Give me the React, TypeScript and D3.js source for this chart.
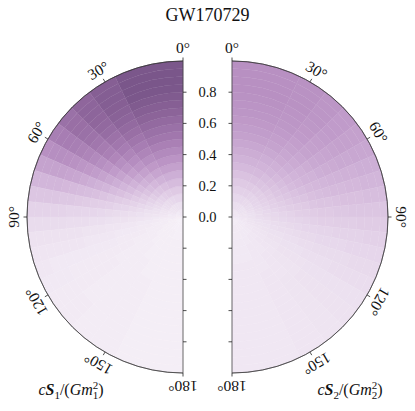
import React from "react";
import * as d3 from "d3";

// Probability per pixel (0-100), rows = tilt bins (cos tilt from 1 to -1 in 20 equal bins),
// columns = magnitude bins (0 to 1 in 20 equal bins)
const spin1Density: number[][] = [
  [8, 12, 18, 25, 32, 39, 46, 53, 59, 65, 71, 76, 81, 86, 90, 94, 97, 98, 98, 97],
  [8, 12, 17, 24, 30, 37, 44, 50, 56, 62, 67, 72, 77, 81, 85, 88, 90, 91, 91, 90],
  [8, 11, 16, 22, 28, 34, 40, 46, 52, 57, 62, 67, 71, 75, 79, 82, 84, 85, 85, 84],
  [7, 11, 15, 20, 26, 31, 37, 42, 47, 52, 56, 61, 65, 68, 71, 74, 76, 77, 77, 76],
  [7, 10, 14, 18, 23, 28, 32, 37, 41, 45, 49, 53, 56, 59, 62, 64, 66, 67, 67, 66],
  [7, 10, 13, 16, 20, 24, 28, 32, 35, 39, 42, 45, 48, 50, 52, 54, 55, 56, 56, 55],
  [6, 9, 11, 14, 17, 21, 24, 27, 30, 32, 35, 37, 39, 41, 43, 44, 45, 45, 45, 45],
  [6, 8, 10, 12, 15, 17, 20, 22, 24, 26, 28, 30, 31, 32, 33, 34, 35, 35, 35, 35],
  [5, 7, 9, 11, 12, 14, 16, 18, 19, 21, 22, 23, 24, 25, 26, 26, 27, 27, 27, 27],
  [5, 6, 8, 9, 10, 12, 13, 14, 15, 16, 17, 18, 18, 19, 19, 20, 20, 20, 20, 20],
  [4, 5, 6, 7, 8, 9, 10, 11, 11, 12, 13, 13, 14, 14, 14, 15, 15, 15, 15, 15],
  [4, 5, 5, 6, 7, 7, 8, 8, 9, 9, 10, 10, 10, 11, 11, 11, 11, 11, 11, 11],
  [4, 4, 5, 5, 6, 6, 7, 7, 7, 8, 8, 8, 8, 9, 9, 9, 9, 9, 9, 9],
  [4, 4, 5, 5, 5, 6, 6, 6, 6, 7, 7, 7, 7, 7, 7, 7, 7, 7, 8, 8],
  [3, 4, 4, 5, 5, 5, 5, 6, 6, 6, 6, 6, 6, 6, 6, 6, 7, 7, 7, 7],
  [3, 4, 4, 4, 5, 5, 5, 5, 5, 5, 6, 6, 6, 6, 6, 6, 6, 6, 6, 6],
  [3, 4, 4, 4, 4, 5, 5, 5, 5, 5, 5, 5, 5, 5, 5, 5, 6, 6, 6, 6],
  [3, 3, 4, 4, 4, 4, 4, 5, 5, 5, 5, 5, 5, 5, 5, 5, 5, 5, 5, 5],
  [3, 3, 4, 4, 4, 4, 4, 4, 4, 5, 5, 5, 5, 5, 5, 5, 5, 5, 5, 5],
  [3, 3, 3, 4, 4, 4, 4, 4, 4, 4, 4, 4, 4, 4, 4, 4, 4, 4, 4, 4],
];

const spin2Density: number[][] = [
  [10, 13, 17, 21, 25, 29, 33, 37, 40, 43, 46, 48, 50, 52, 53, 54, 55, 55, 55, 55],
  [10, 13, 17, 21, 25, 29, 33, 36, 39, 42, 45, 47, 49, 51, 52, 53, 54, 54, 54, 54],
  [10, 13, 16, 20, 24, 28, 31, 35, 38, 41, 43, 45, 47, 49, 50, 51, 52, 52, 52, 52],
  [10, 12, 16, 19, 23, 27, 30, 33, 36, 39, 41, 43, 45, 46, 47, 48, 49, 49, 49, 49],
  [10, 12, 15, 19, 22, 25, 28, 31, 34, 36, 38, 40, 42, 43, 44, 45, 46, 46, 46, 46],
  [9, 12, 15, 18, 21, 24, 27, 29, 32, 34, 36, 37, 39, 40, 41, 42, 42, 43, 43, 43],
  [9, 11, 14, 17, 20, 22, 25, 27, 29, 31, 33, 34, 35, 36, 37, 38, 38, 39, 39, 39],
  [9, 11, 13, 16, 18, 21, 23, 25, 27, 28, 30, 31, 32, 33, 33, 34, 34, 35, 35, 35],
  [8, 10, 12, 15, 17, 19, 21, 23, 24, 25, 27, 28, 28, 29, 30, 30, 30, 31, 31, 31],
  [8, 10, 12, 14, 16, 17, 19, 20, 22, 23, 24, 25, 25, 26, 26, 27, 27, 27, 27, 27],
  [8, 9, 11, 13, 14, 16, 17, 18, 19, 20, 21, 22, 22, 23, 23, 23, 24, 24, 24, 24],
  [7, 9, 10, 12, 13, 14, 15, 16, 17, 18, 18, 19, 19, 20, 20, 20, 20, 21, 21, 21],
  [7, 8, 10, 11, 12, 13, 14, 14, 15, 16, 16, 17, 17, 17, 17, 18, 18, 18, 18, 18],
  [7, 8, 9, 10, 11, 12, 12, 13, 13, 14, 14, 15, 15, 15, 15, 15, 16, 16, 16, 16],
  [6, 7, 8, 9, 10, 11, 11, 12, 12, 12, 13, 13, 13, 13, 14, 14, 14, 14, 14, 14],
  [6, 7, 8, 9, 9, 10, 10, 11, 11, 11, 11, 12, 12, 12, 12, 12, 12, 12, 12, 12],
  [6, 7, 7, 8, 9, 9, 9, 10, 10, 10, 10, 11, 11, 11, 11, 11, 11, 11, 11, 11],
  [6, 6, 7, 8, 8, 8, 9, 9, 9, 9, 10, 10, 10, 10, 10, 10, 10, 10, 10, 10],
  [5, 6, 7, 7, 8, 8, 8, 8, 9, 9, 9, 9, 9, 9, 9, 9, 9, 9, 9, 9],
  [5, 6, 6, 7, 7, 7, 8, 8, 8, 8, 8, 8, 8, 8, 8, 8, 8, 8, 8, 8],
];

const tiltTicks = [0, 30, 60, 90, 120, 150, 180];
const magTicks = [0.0, 0.2, 0.4, 0.6, 0.8];
const magTickMarks = [0.2, 0.4, 0.6, 0.8];
const title = "GW170729";

const FONT = "'Liberation Serif', 'DejaVu Serif', serif";
const R = 156;
const CY = 217;
const CX_L = 183;
const CX_R = 232;

const rScale = d3.scaleLinear().domain([0, 1]).range([0, R]);
const colorScale = d3
  .scaleSequential(
    d3.interpolateRgbBasis(["#f8f4f9", "#e0cce6", "#bf97c9", "#9c70a8", "#775487"])
  )
  .domain([0, 100]);

function Disk({ data, cx, side }: { data: number[][]; cx: number; side: number }) {
  const nT = data.length;
  const nM = data[0].length;
  const arc = d3.arc<any>();
  const cells: React.ReactNode[] = [];
  data.forEach((row, i) => {
    const c0 = 1 - (2 * i) / nT;
    const c1 = 1 - (2 * (i + 1)) / nT;
    const a0 = Math.acos(c0) * side;
    const a1 = Math.acos(Math.max(-1, c1)) * side;
    row.forEach((v, j) => {
      const d = arc({
        innerRadius: rScale(j / nM),
        outerRadius: rScale((j + 1) / nM),
        startAngle: Math.min(a0, a1),
        endAngle: Math.max(a0, a1),
      });
      const col = colorScale(v);
      cells.push(
        <path key={`${i}-${j}`} d={d || ""} fill={col} stroke={col} strokeWidth={0.4} />
      );
    });
  });
  const outline = d3.arc<any>()({
    innerRadius: R,
    outerRadius: R,
    startAngle: side > 0 ? 0 : -Math.PI,
    endAngle: side > 0 ? Math.PI : 0,
  });
  return (
    <g transform={`translate(${cx},${CY})`}>
      {cells}
      <path d={outline || ""} fill="none" stroke="#333" strokeWidth={0.6} />
      <line x1={0} x2={0} y1={-R} y2={R} stroke="#444" strokeWidth={0.8} />
      {tiltTicks.map((t) => {
        const a = (t * Math.PI) / 180;
        const sx = side * Math.sin(a);
        const sy = -Math.cos(a);
        const lr = R + 13.5;
        return (
          <g key={t}>
            <line x1={sx * R} y1={sy * R} x2={sx * (R + 3.5)} y2={sy * (R + 3.5)} stroke="#222" strokeWidth={0.8} />
            <text
              x={sx * lr}
              y={sy * lr}
              fontSize={15.5}
              fontFamily={FONT}
              textAnchor="middle"
              dominantBaseline="central"
              transform={`rotate(${side * t} ${sx * lr} ${sy * lr})`}
              fill="#111"
            >
              {`${t}°`}
            </text>
          </g>
        );
      })}
      {magTickMarks.concat([0]).map((m) => (
        <g key={m}>
          <line x1={0} x2={-side * 3.5} y1={-rScale(m)} y2={-rScale(m)} stroke="#222" strokeWidth={0.8} />
          {m > 0 && (
            <line x1={0} x2={-side * 3.5} y1={rScale(m)} y2={rScale(m)} stroke="#222" strokeWidth={0.8} />
          )}
        </g>
      ))}
    </g>
  );
}

function SpinLabel({ x, y, idx }: { x: number; y: number; idx: string }) {
  return (
    <text x={x} y={y} fontSize={16} fontFamily={FONT} textAnchor="middle" fill="#111">
      <tspan fontStyle="italic">c</tspan>
      <tspan fontStyle="italic" fontWeight="bold">S</tspan>
      <tspan fontSize={11} dy={4}>{idx}</tspan>
      <tspan dy={-4}>/(</tspan>
      <tspan fontStyle="italic">Gm</tspan>
      <tspan fontSize={11} dy={4}>{idx}</tspan>
      <tspan fontSize={11} dx={-5.5} dy={-10.5}>2</tspan>
      <tspan dy={6.5}>)</tspan>
    </text>
  );
}

export default function App() {
  return (
    <svg width={415} height={411} style={{ position: "absolute", left: 0, top: 0, background: "#fff" }}>
      <text x={207.5} y={21} fontSize={18} fontFamily={FONT} textAnchor="middle" fill="#111">
        {title}
      </text>
      <Disk data={spin1Density} cx={CX_L} side={-1} />
      <Disk data={spin2Density} cx={CX_R} side={1} />
      {magTicks.map((m) => (
        <text
          key={m}
          x={(CX_L + CX_R) / 2}
          y={CY - rScale(m)}
          fontSize={14.5}
          fontFamily={FONT}
          textAnchor="middle"
          dominantBaseline="central"
          fill="#111"
        >
          {m.toFixed(1)}
        </text>
      ))}
      <SpinLabel x={71} y={395} idx="1" />
      <SpinLabel x={350} y={395} idx="2" />
    </svg>
  );
}
